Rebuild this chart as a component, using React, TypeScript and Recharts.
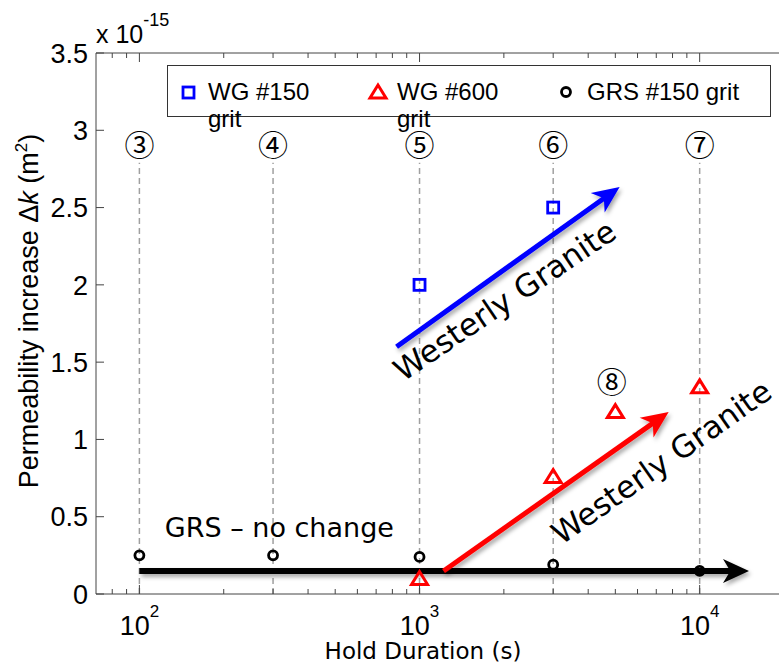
import React from 'react';
import { ScatterChart, Scatter, XAxis, YAxis, ReferenceLine, ReferenceDot } from 'recharts';

// ---------- data ----------
const wg150Duration = [1000, 3000];
const wg150Increase = [2.0, 2.5];

const wg600Duration = [1000, 3000, 5000, 10000];
const wg600Increase = [0.1, 0.76, 1.18, 1.34];

const grsDuration = [100, 300, 1000, 3000, 10000];
const grsIncrease = [0.25, 0.25, 0.24, 0.19, 0.15];

const stageDuration = [100, 300, 1000, 3000, 10000];
const stageLabel = ['③', '④', '⑤', '⑥', '⑦'];
const stageLabelLevel = 2.92;
const stageLineTop = 2.79;
const extraStage = { x: 4850, y: 1.385, label: '⑧' };

const yTicks = [0, 0.5, 1, 1.5, 2, 2.5, 3, 3.5];
const xMajorTicks = [100, 1000, 10000];
const xMinorTicks = [80, 90, 200, 300, 400, 500, 600, 700, 800, 900, 2000, 3000, 4000, 5000, 6000, 7000, 8000, 9000, 20000];
const xTicks = [...xMajorTicks, ...xMinorTicks].sort((a, b) => a - b);

const legendNames = ['WG #150', 'WG #600', 'GRS #150 grit'];

// arrows (annotation segments in data coords)
const wgBlueArrow = [{ x: 828, y: 1.6 }, { x: 5180, y: 2.633 }];
const wgRedArrow = [{ x: 1218, y: 0.149 }, { x: 7750, y: 1.177 }];
const grsArrow = [{ x: 100, y: 0.149 }, { x: 15000, y: 0.149 }];

const toPoints = (xs: number[], ys: number[]) => xs.map((x, i) => ({ x, y: ys[i] }));
const wg150Data = toPoints(wg150Duration, wg150Increase);
const wg600Data = toPoints(wg600Duration, wg600Increase);
const grsData = toPoints(grsDuration, grsIncrease);

// ---------- styles ----------
const SANS = "'Liberation Sans', Arial, sans-serif";
const HAND = "'Comic Sans MS', 'DejaVu Sans', sans-serif";
const CIRC = "'Noto Sans CJK JP', 'DejaVu Sans', sans-serif";
const AXIS = '#444';
const BLUE = '#0000ff';
const RED = '#ff0000';

const SquareShape = (p: any) => (
  <rect x={p.cx - 5.5} y={p.cy - 5.5} width={11} height={11} fill="none" stroke={BLUE} strokeWidth={2.8} />
);
const TriangleShape = (p: any) => (
  <polygon
    points={`${p.cx},${p.cy - 7} ${p.cx - 8},${p.cy + 6} ${p.cx + 8},${p.cy + 6}`}
    fill="none"
    stroke={RED}
    strokeWidth={3}
  />
);
const CircleShape = (p: any) => (
  <circle cx={p.cx} cy={p.cy} r={4.5} fill="none" stroke="#000" strokeWidth={2.8} />
);

const makeArrow = (id: string, color: string, width: number, headLen: number, headHalf: number) => (p: any) => {
  const { x1, y1, x2, y2 } = p;
  const dx = x2 - x1;
  const dy = y2 - y1;
  const len = Math.hypot(dx, dy) || 1;
  const ux = dx / len;
  const uy = dy / len;
  const nx = -uy;
  const ny = ux;
  const bx = x2 - ux * headLen;
  const by = y2 - uy * headLen;
  const kx = x2 - ux * headLen * 0.72;
  const ky = y2 - uy * headLen * 0.72;
  const pts = `${x2},${y2} ${bx + nx * headHalf},${by + ny * headHalf} ${kx},${ky} ${bx - nx * headHalf},${by - ny * headHalf}`;
  return (
    <g>
      <defs>
        <filter id={id} filterUnits="userSpaceOnUse" x={0} y={0} width={800} height={663}>
          <feDropShadow dx={2} dy={3} stdDeviation={2} floodColor="#000" floodOpacity={0.35} />
        </filter>
      </defs>
      <g filter={`url(#${id})`}>
        <line x1={x1} y1={y1} x2={kx + ux * 2} y2={ky + uy * 2} stroke={color} strokeWidth={width} />
        <polygon points={pts} fill={color} />
      </g>
    </g>
  );
};

const BottomTick = (props: any) => {
  const { x, y, payload } = props;
  const v = payload.value;
  const major = xMajorTicks.includes(v);
  return (
    <g>
      <line x1={x} y1={y} x2={x} y2={y - (major ? 9 : 5)} stroke={AXIS} strokeWidth={1} />
      {major && (
        <text x={x} y={y + 41} textAnchor="middle" fontFamily={SANS} fill="#000">
          <tspan fontSize={27}>10</tspan>
          <tspan fontSize={17} dy={-18}>{Math.round(Math.log10(v))}</tspan>
        </text>
      )}
    </g>
  );
};
const TopTick = (props: any) => {
  const { x, y, payload } = props;
  const major = xMajorTicks.includes(payload.value);
  return <line x1={x} y1={y} x2={x} y2={y + (major ? 9 : 5)} stroke={AXIS} strokeWidth={1} />;
};
const LeftTick = (props: any) => {
  const { x, y, payload } = props;
  return (
    <g>
      <line x1={x} y1={y} x2={x + 8} y2={y} stroke={AXIS} strokeWidth={1} />
      <text x={x - 8} y={y} dy="0.36em" textAnchor="end" fontFamily={SANS} fontSize={27} fill="#000">
        {String(payload.value)}
      </text>
    </g>
  );
};
const RightTick = (props: any) => {
  const { x, y } = props;
  return <line x1={x} y1={y} x2={x - 8} y2={y} stroke={AXIS} strokeWidth={1} />;
};

const rotatedText = (text: string, angle: number, size: number) => (p: any) => (
  <text
    x={p.cx}
    y={p.cy}
    transform={`rotate(${angle} ${p.cx} ${p.cy})`}
    textAnchor="middle"
    dominantBaseline="central"
    fontFamily={HAND}
    fontSize={size}
    fill="#000"
  >
    {text}
  </text>
);
const circledText = (text: string) => (p: any) => (
  <text x={p.cx} y={p.cy} textAnchor="middle" dominantBaseline="central" fontFamily={CIRC} fontSize={30} fill="#000">
    {text}
  </text>
);

export default function App() {
  return (
    <div style={{ position: 'absolute', left: 0, top: 0, width: 779, height: 663, overflow: 'hidden', background: '#fff' }}>
      <ScatterChart width={800} height={663} margin={{ top: 43, right: 6, left: 36, bottom: 19 }}>
        <XAxis
          xAxisId={0}
          dataKey="x"
          type="number"
          scale="log"
          domain={[70, 20000]}
          allowDataOverflow
          ticks={xTicks}
          interval={0}
          height={50}
          tickSize={0}
          tickMargin={0}
          tick={<BottomTick />}
          axisLine={{ stroke: AXIS, strokeWidth: 1 }}
          tickLine={false}
        />
        <XAxis
          xAxisId="top"
          orientation="top"
          dataKey="x"
          type="number"
          scale="log"
          domain={[70, 20000]}
          allowDataOverflow
          ticks={xTicks}
          interval={0}
          height={10}
          tickSize={0}
          tickMargin={0}
          tick={<TopTick />}
          axisLine={{ stroke: AXIS, strokeWidth: 1 }}
          tickLine={false}
        />
        <YAxis
          yAxisId={0}
          dataKey="y"
          type="number"
          domain={[0, 3.5]}
          ticks={yTicks}
          interval={0}
          width={60}
          tickSize={0}
          tickMargin={0}
          tick={<LeftTick />}
          axisLine={{ stroke: AXIS, strokeWidth: 1 }}
          tickLine={false}
        />
        <YAxis
          yAxisId="right"
          orientation="right"
          type="number"
          domain={[0, 3.5]}
          ticks={yTicks}
          interval={0}
          width={10}
          tickSize={0}
          tickMargin={0}
          tick={<RightTick />}
          axisLine={{ stroke: AXIS, strokeWidth: 1 }}
          tickLine={false}
        />

        {stageDuration.map((d) => (
          <ReferenceLine
            key={'sl' + d}
            segment={[{ x: d, y: 0 }, { x: d, y: stageLineTop }]}
            stroke="#a0a0a0"
            strokeWidth={1.5}
            strokeDasharray="6 4"
          />
        ))}
        {stageDuration.map((d, i) => (
          <ReferenceDot key={'st' + d} x={d} y={stageLabelLevel} r={0} shape={circledText(stageLabel[i])} />
        ))}
        <ReferenceDot x={extraStage.x} y={extraStage.y} r={0} shape={circledText(extraStage.label)} />

        <Scatter name="WG #150" data={wg150Data} shape={SquareShape} isAnimationActive={false} />
        <Scatter name="WG #600" data={wg600Data} shape={TriangleShape} isAnimationActive={false} />

        <ReferenceLine segment={grsArrow} shape={makeArrow('shK', '#000', 6, 26, 12)} />
        <ReferenceLine segment={wgBlueArrow} shape={makeArrow('shB', BLUE, 5, 27, 12)} />
        <ReferenceLine segment={wgRedArrow} shape={makeArrow('shR', RED, 5, 27, 12)} />

        <Scatter name="GRS #150 grit" data={grsData} shape={CircleShape} isAnimationActive={false} />

        <ReferenceDot x={2012} y={1.9} r={0} shape={rotatedText('Westerly Granite', -34, 31)} />
        <ReferenceDot x={7300} y={0.855} r={0} shape={rotatedText('Westerly Granite', -35, 31)} />
        <ReferenceDot x={316} y={0.43} r={0} shape={rotatedText('GRS – no change', 0, 27)} />
      </ScatterChart>

      <svg width={800} height={663} style={{ position: 'absolute', left: 0, top: 0, pointerEvents: 'none' }}>
        {/* exponent */}
        <text x={96} y={43} fontFamily={SANS} fontSize={25} fill="#000">
          x 10<tspan fontSize={18} dy={-17}>-15</tspan>
        </text>
        {/* y label */}
        <text
          x={38}
          y={311}
          transform="rotate(-90 38 311)"
          textAnchor="middle"
          fontFamily={SANS}
          fontSize={27}
          fill="#000"
        >
          Permeability increase Δ<tspan fontStyle="italic">k</tspan> (m<tspan fontSize={17} dy={-11}>2</tspan>
          <tspan dy={11}>)</tspan>
        </text>
        {/* x label */}
        <text x={423} y={659} textAnchor="middle" fontFamily={HAND} fontSize={23} fill="#000">
          Hold Duration (s)
        </text>
        {/* legend */}
        <rect x={167.5} y={65.5} width={603} height={51} fill="#fff" stroke="#333" strokeWidth={1} />
        <rect x={183} y={87} width={11} height={11} fill="none" stroke={BLUE} strokeWidth={2.8} />
        <text x={208} y={100} fontFamily={SANS} fontSize={24} fill="#000">{legendNames[0]}</text>
        <text x={208} y={127} fontFamily={SANS} fontSize={24} fill="#000">grit</text>
        <polygon points="378,85 370,98 386,98" fill="none" stroke={RED} strokeWidth={3} />
        <text x={397} y={100} fontFamily={SANS} fontSize={24} fill="#000">{legendNames[1]}</text>
        <text x={397} y={127} fontFamily={SANS} fontSize={24} fill="#000">grit</text>
        <circle cx={566} cy={92} r={4.5} fill="none" stroke="#000" strokeWidth={2.8} />
        <text x={587} y={100} fontFamily={SANS} fontSize={24} fill="#000">{legendNames[2]}</text>
      </svg>
    </div>
  );
}
